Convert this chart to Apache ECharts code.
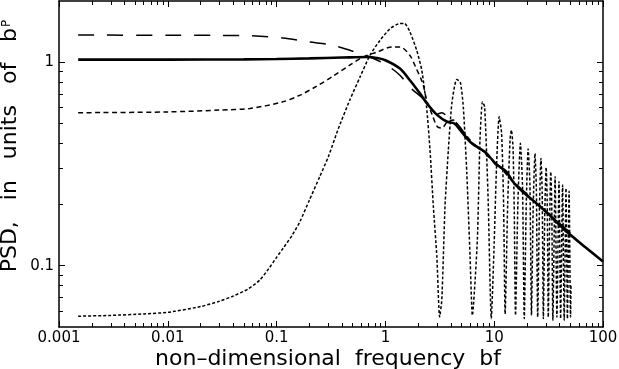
<!DOCTYPE html>
<html>
<head>
<meta charset="utf-8">
<script src="https://cdn.jsdelivr.net/npm/echarts@6/dist/echarts.min.js"></script>
<style>
  html, body { margin: 0; padding: 0; background: #fff; }
  #chart { width: 619px; height: 369px; }
</style>
</head>
<body>
<div id="chart"></div>
<script>
// tick values
var xMajor = [0.001, 0.01, 0.1, 1, 10, 100]
var xTickLabels = ['0.001', '0.01', '0.1', '1', '10', '100']
var xMinor = [0.002, 0.003, 0.004, 0.005, 0.006, 0.007, 0.008, 0.009,
  0.02, 0.03, 0.04, 0.05, 0.06, 0.07, 0.08, 0.09,
  0.2, 0.3, 0.4, 0.5, 0.6, 0.7, 0.8, 0.9,
  2, 3, 4, 5, 6, 7, 8, 9,
  20, 30, 40, 50, 60, 70, 80, 90]
var yMajor = [0.1, 1]
var yTickLabels = ['0.1', '1']
var yMinor = [0.06, 0.07, 0.08, 0.09, 0.2, 0.3, 0.4, 0.5, 0.6, 0.7, 0.8, 0.9]

// solid (thick) curve
var solidF = [0.0015, 0.01, 0.05, 0.1, 0.2, 0.4, 0.7, 0.83, 1.0, 1.36, 1.68, 2.08, 2.4, 3.0, 3.7, 4.3, 4.88,
  6.0, 7.2, 8.2, 9.6, 10.5, 11.2, 12.9, 15.2, 18.3, 24.6, 32, 44.6, 68, 100]
var solidP = [1.03, 1.03, 1.033, 1.037, 1.045, 1.055, 1.062, 1.05, 1.023, 0.931, 0.816, 0.702, 0.629, 0.55, 0.51, 0.50, 0.464,
  0.407, 0.379, 0.363, 0.331, 0.313, 0.307, 0.29, 0.255, 0.231, 0.202, 0.178, 0.15, 0.124, 0.105]

// long dashed curve
var longF = [0.0015, 0.01, 0.03, 0.057, 0.114, 0.2, 0.31, 0.47, 0.72, 1.03, 1.36, 1.68, 2.2, 2.45, 2.97, 3.3, 3.8, 4.4, 5.0,
  6.0, 7.0, 8.5, 10, 12, 15, 20, 30, 50]
var longP = [1.36, 1.358, 1.355, 1.35, 1.316, 1.257, 1.22, 1.145, 1.062, 0.967, 0.864, 0.754, 0.666, 0.629, 0.555, 0.565, 0.535, 0.51, 0.47,
  0.41, 0.385, 0.355, 0.325, 0.298, 0.26, 0.225, 0.185, 0.145]

// short dashed curve
var shortF = [0.0015, 0.01, 0.03, 0.057, 0.114, 0.164, 0.234, 0.33, 0.47, 0.62, 0.83, 1.15, 1.36, 1.68, 1.9, 2.2, 2.4, 2.7, 3.0, 3.3, 3.7, 4.2, 4.8,
  5.5, 6.5, 7.5, 9.0, 11, 14, 20, 30, 50]
var shortP = [0.565, 0.57, 0.582, 0.593, 0.639, 0.689, 0.763, 0.854, 0.967, 1.06, 1.12, 1.19, 1.19, 1.08, 0.945, 0.789, 0.651, 0.55, 0.482, 0.475, 0.508, 0.52, 0.475,
  0.44, 0.395, 0.375, 0.34, 0.31, 0.268, 0.222, 0.184, 0.145]

// dotted (oscillating) curve
var dotF = [0.0015, 0.003, 0.006, 0.01, 0.02, 0.03, 0.04, 0.055, 0.07, 0.085, 0.1, 0.115, 0.14, 0.164, 0.2, 0.25, 0.3, 0.37, 0.47, 0.585, 0.72, 0.89, 1.1, 1.36, 1.5,
  1.68, 1.94, 2.16, 2.39, 2.57, 2.76, 2.97, 3.15,
  3.3, 3.53, 3.79, 4.08, 4.52, 4.88, 5.2, 5.6, 6.0, 6.3,
  7.0, 7.4, 7.8, 8.17, 8.8, 9.4,
  10.0, 10.5, 11.1, 11.7, 12.2, 12.6,
  13.3, 14.0, 14.4, 14.9, 15.3, 15.7,
  16.5, 17.4, 18.2, 18.9,
  19.7, 20.5, 21.3, 22.0,
  22.8, 23.7, 24.4, 25.1,
  26.0, 26.9, 27.6, 28.3,
  29.1, 30.0, 30.7, 31.4,
  32.3, 33.1, 33.8, 34.6,
  36.3, 37.7, 39.4, 40.8, 42.5, 44.0, 45.7, 47.1, 48.8, 50.3, 50.8]
var dotP = [0.0565, 0.057, 0.058, 0.059, 0.063, 0.067, 0.071, 0.077, 0.085, 0.097, 0.11, 0.122, 0.142, 0.165, 0.21, 0.275, 0.345, 0.473, 0.651, 0.847, 1.08, 1.28, 1.46, 1.55, 1.55,
  1.41, 1.145, 0.914, 0.604, 0.371, 0.195, 0.111, 0.056,
  0.068, 0.195, 0.371, 0.627, 0.823, 0.80, 0.604, 0.285, 0.111, 0.057,
  0.134, 0.415, 0.639, 0.604, 0.21, 0.055,
  0.13, 0.306, 0.54, 0.447, 0.2, 0.058,
  0.2, 0.42, 0.464, 0.38, 0.18, 0.057,
  0.2, 0.40, 0.25, 0.055,
  0.2, 0.375, 0.25, 0.057,
  0.19, 0.356, 0.24, 0.056,
  0.18, 0.337, 0.23, 0.055,
  0.17, 0.305, 0.21, 0.056,
  0.16, 0.29, 0.2, 0.054,
  0.274, 0.056, 0.259, 0.055, 0.249, 0.054, 0.24, 0.055, 0.232, 0.056, 0.08]

function zip(f, p) {
  return f.map(function (v, i) { return [v, p[i]] })
}

var font = 'DejaVu Sans'

function axisCommon(min, max) {
  return {
    type: 'log',
    logBase: 10,
    min: min,
    max: max,
    splitLine: { show: false },
    axisLine: { show: true, lineStyle: { color: '#000', width: 1.5 } },
    axisLabel: { show: false },
    axisPointer: { show: false }
  }
}

function tickAxis(min, max, gridIndex, position, values, len, showLine) {
  var a = axisCommon(min, max)
  a.gridIndex = gridIndex
  a.position = position
  a.axisLine.show = showLine
  a.axisTick = { show: true, inside: true, length: len, customValues: values, lineStyle: { color: '#000', width: 1 } }
  return a
}

var xBottom = tickAxis(0.001, 100, 0, 'bottom', xMajor, 6, true)
xBottom.axisLabel = {
  show: true,
  customValues: xMajor,
  color: '#000',
  fontFamily: font,
  fontSize: 15,
  margin: 4,
  formatter: function (v) { return xTickLabels[Math.round(Math.log10(v)) + 3] }
}
xBottom.name = 'non\u2013dimensional  frequency  bf'
xBottom.nameLocation = 'middle'
xBottom.nameGap = 21
xBottom.nameMoveOverlap = false
xBottom.nameTextStyle = { color: '#000', fontFamily: font, fontSize: 22, padding: [0, 6, 0, 0] }

var yLeft = tickAxis(0.05, 2, 0, 'left', yMajor, 6, true)
yLeft.axisLabel = {
  show: true,
  customValues: yMajor,
  color: '#000',
  fontFamily: font,
  fontSize: 15,
  margin: 5,
  formatter: function (v) { return yTickLabels[Math.round(Math.log10(v)) + 1] }
}
yLeft.name = '{a|PSD,   in   units   of   b}{s|P}'
yLeft.nameLocation = 'middle'
yLeft.nameGap = 38
yLeft.nameMoveOverlap = false
yLeft.nameTextStyle = {
  color: '#000',
  fontFamily: font,
  fontSize: 22,
  padding: [0, 0, 0, 36],
  rich: {
    a: { fontFamily: font, fontSize: 22, color: '#000' },
    s: { fontFamily: font, fontSize: 12, color: '#000', padding: [0, 0, 6, 1] }
  }
}

var option = {
  animation: false,
  backgroundColor: '#fff',
  grid: [
    { left: 59, right: 16, top: 1, bottom: 42, outerBoundsMode: 'none', containLabel: false },
    { left: 59, right: 16, top: 1, bottom: 42, outerBoundsMode: 'none', containLabel: false }
  ],
  xAxis: [
    xBottom,
    tickAxis(0.001, 100, 0, 'top', xMajor, 6, true),
    tickAxis(0.001, 100, 1, 'bottom', xMinor, 4, false),
    tickAxis(0.001, 100, 1, 'top', xMinor, 4, false)
  ],
  yAxis: [
    yLeft,
    tickAxis(0.05, 2, 0, 'right', yMajor, 6, true),
    tickAxis(0.05, 2, 1, 'left', yMinor, 4, false),
    tickAxis(0.05, 2, 1, 'right', yMinor, 4, false)
  ],
  series: [
    {
      type: 'line',
      xAxisIndex: 0,
      yAxisIndex: 0,
      data: zip(dotF, dotP),
      showSymbol: false,
      smooth: 0.2,
      lineStyle: { color: '#000', width: 1.5, type: [3, 2] }
    },
    {
      type: 'line',
      xAxisIndex: 0,
      yAxisIndex: 0,
      data: zip(shortF, shortP),
      showSymbol: false,
      smooth: 0.3,
      lineStyle: { color: '#000', width: 1.5, type: [5, 3.5] }
    },
    {
      type: 'line',
      xAxisIndex: 0,
      yAxisIndex: 0,
      data: zip(longF, longP),
      showSymbol: false,
      smooth: 0.3,
      lineStyle: { color: '#000', width: 1.5, type: [16, 13] }
    },
    {
      type: 'line',
      xAxisIndex: 0,
      yAxisIndex: 0,
      data: zip(solidF, solidP),
      showSymbol: false,
      smooth: 0.3,
      lineStyle: { color: '#000', width: 2.6, type: 'solid' }
    }
  ]
}

var myChart = echarts.init(document.getElementById('chart'), null, { renderer: 'canvas' })
myChart.setOption(option)
</script>
</body>
</html>
